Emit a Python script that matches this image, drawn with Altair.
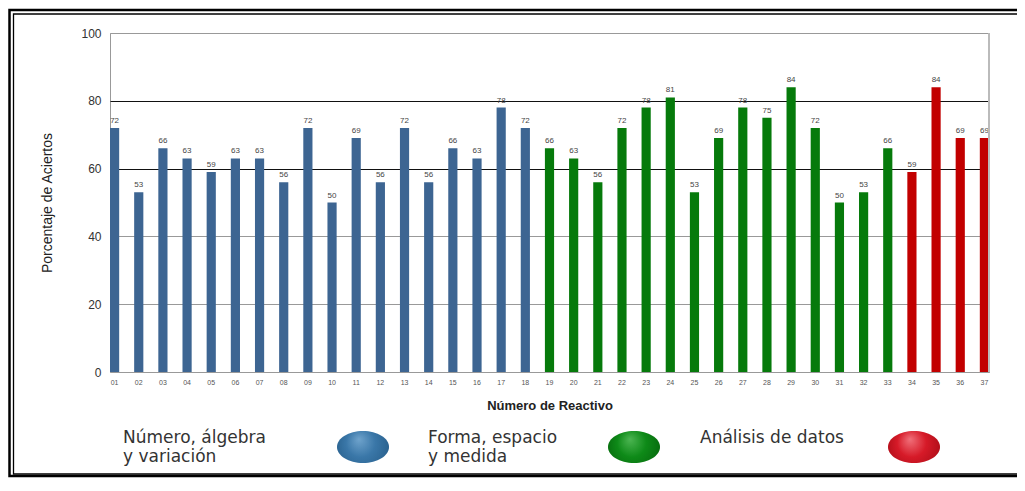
import altair as alt
import pandas as pd

items = [f"{i:02d}" for i in range(1, 38)]
values = [72, 53, 66, 63, 59, 63, 63, 56, 72, 50, 69, 56, 72, 56, 66, 63, 78, 72,
          66, 63, 56, 72, 78, 81, 53, 69, 78, 75, 84, 72, 50, 53, 66,
          59, 84, 69, 69]
cat_names = ["Número, álgebra y variación", "Forma, espacio y medida", "Análisis de datos"]
cat_counts = [18, 15, 4]
bar_colors = ["#3D6592", "#067A0B", "#C20000"]
legend_labels = ["Número, álgebra\ny variación", "Forma, espacio\ny medida", "Análisis de datos"]
legend_base = ["#3A77A8", "#0E8A18", "#D61A28"]
legend_light = ["#6FA3CC", "#4CB552", "#F0707A"]
legend_dark = ["#245A86", "#05620B", "#A30A14"]

categories = []
for name, n in zip(cat_names, cat_counts):
    categories += [name] * n

df = pd.DataFrame({"item": items, "value": values, "cat": categories})

W, H = 879, 339

x_enc = alt.X("item:N", sort=items,
              scale=alt.Scale(paddingInner=0.62, paddingOuter=0),
              axis=alt.Axis(labelAngle=0, labelFontSize=7, labelColor="#555",
                            labelFont="Liberation Sans", ticks=False, domain=False,
                            grid=False, labelPadding=6,
                            title="Número de Reactivo", titleFontSize=13,
                            titleFontWeight="bold", titleColor="#222",
                            titleFont="Liberation Sans",
                            titleBaseline="middle", titleY=33))
y_enc = alt.Y("value:Q", scale=alt.Scale(domain=[0, 100], nice=False),
              axis=alt.Axis(values=[0, 20, 40, 60, 80, 100], grid=True,
                            gridColor={"condition": {"test": "datum.value === 60 || datum.value === 80",
                                                     "value": "#111"}, "value": "#999"},
                            gridWidth=1, ticks=False, domain=False,
                            labelFontSize=12, labelColor="#333", labelPadding=9,
                            labelFont="Liberation Sans",
                            title="Porcentaje de Aciertos", titleFontSize=14,
                            titleFontWeight="normal", titleColor="#222",
                            titleFont="Liberation Sans",
                            titleBaseline="middle", titleX=-63))

bars = alt.Chart(df).mark_bar().encode(
    x=x_enc, y=y_enc,
    color=alt.Color("cat:N", scale=alt.Scale(domain=cat_names, range=bar_colors), legend=None),
)
labels = alt.Chart(df).mark_text(baseline="bottom", dy=-3, fontSize=8,
                                 font="Liberation Sans", color="#444").encode(
    x=alt.X("item:N", sort=items), y="value:Q", text="value:Q")

right_border = alt.Chart(pd.DataFrame({"a": [0]})).mark_rule(color="#bbb", strokeWidth=2).encode(
    x=alt.value(W), y=alt.value(0), y2=alt.value(H))

layers = [bars, labels, right_border]

leg_text_x = [13, 318, 590]
leg_ell_x = [253, 524, 804]
ell_path = "M -1 0 A 1 0.615 0 1 1 1 0 A 1 0.615 0 1 1 -1 0 Z"
for i in range(3):
    grad = {"gradient": "radial", "x1": 0.42, "y1": 0.35, "r1": 0,
            "x2": 0.5, "y2": 0.5, "r2": 0.62,
            "stops": [{"offset": 0, "color": legend_light[i]},
                      {"offset": 0.45, "color": legend_base[i]},
                      {"offset": 1, "color": legend_dark[i]}]}
    d = alt.Data(values=[{"label": legend_labels[i]}])
    layers.append(alt.Chart(d).mark_point(shape=ell_path, size=2704, filled=True,
                                          fill=grad, stroke=None, opacity=1).encode(
        x=alt.value(leg_ell_x[i]), y=alt.value(414)))
    layers.append(alt.Chart(d).mark_text(align="left", baseline="alphabetic", fontSize=17,
                                         font="DejaVu Sans", color="#333",
                                         lineBreak="\n", lineHeight=19).encode(
        x=alt.value(leg_text_x[i]), y=alt.value(410), text="label:N"))

frame_df = pd.DataFrame({"a": [0]})
outer = alt.Chart(frame_df).mark_rect(fill=None, stroke="#000", strokeWidth=2.5).encode(
    x=alt.value(-100.5), x2=alt.value(W + 60), y=alt.value(-23), y2=alt.value(443))
inner = alt.Chart(frame_df).mark_rect(fill=None, stroke="#000", strokeWidth=1.3).encode(
    x=alt.value(-96.5), x2=alt.value(W + 60), y=alt.value(-19), y2=alt.value(441))
layers += [outer, inner]

chart = alt.layer(*layers).properties(
    width=W, height=H,
    padding={"left": 102, "top": 25, "right": 28, "bottom": 106},
    autosize=alt.AutoSizeParams(type="none"),
    background="white",
).configure_view(stroke="#999", strokeWidth=1)

chart.save("out.html", embed_options={"renderer": "svg", "actions": False})
